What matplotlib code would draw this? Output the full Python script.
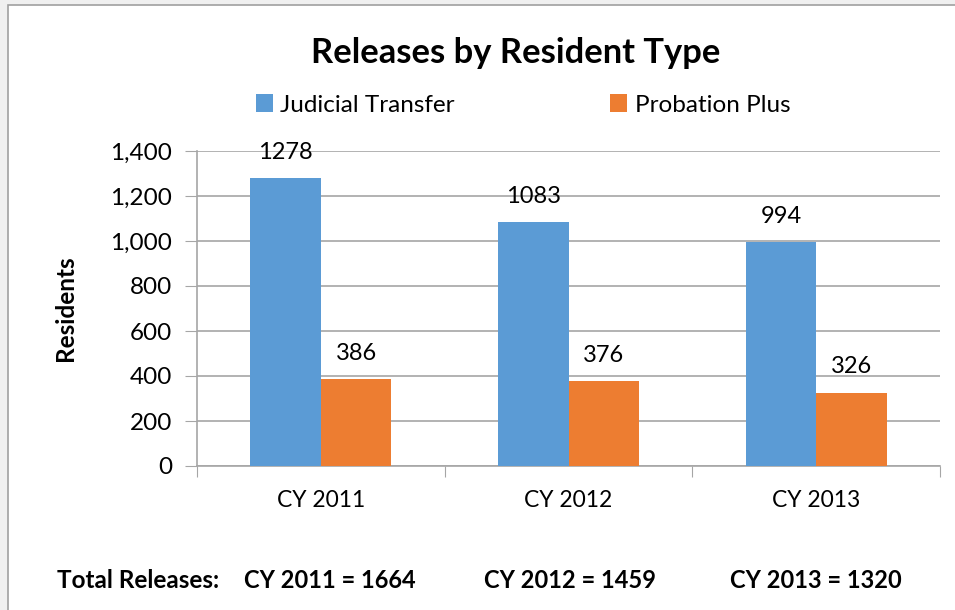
import matplotlib.pyplot as plt
import numpy as np
from matplotlib.patches import Rectangle

categories = ["CY 2011", "CY 2012", "CY 2013"]
judicial = [1278, 1083, 994]
probation = [386, 376, 326]
totals = [1664, 1459, 1320]
series_names = ["Judicial Transfer", "Probation Plus"]
yticks = [0, 200, 400, 600, 800, 1000, 1200, 1400]

plt.rcParams['font.family'] = ['Lato', 'DejaVu Sans']

blue = '#5b9bd5'
orange = '#ed7d31'
grid = '#a6a6a6'

fig = plt.figure(figsize=(9.55, 6.10), dpi=100)
fig.patch.set_facecolor('#f0f0f0')
# white chart area with gray border
fig.patches.append(Rectangle((8/955, -0.1), 1.2, (605+61)/610, transform=fig.transFigure,
                             facecolor='white', edgecolor='#a0a0a0', lw=1.2, zorder=-10))

ax = fig.add_axes([197/955, 144/610, 743/955, 315/610])
ax.set_facecolor('white')
x = np.arange(len(categories))
w = 0.285
b1 = ax.bar(x - w/2, judicial, w, color=blue, zorder=3)
b2 = ax.bar(x + w/2, probation, w, color=orange, zorder=3)

for bars, vals in ((b1, judicial), (b2, probation)):
    for b, v in zip(bars, vals):
        ax.annotate(str(v), (b.get_x() + b.get_width()/2, v), xytext=(0, 11),
                    textcoords='offset points', ha='center', va='bottom', fontsize=17)

ax.set_xlim(-0.5, 2.5)
ax.set_ylim(0, 1400)
ax.set_yticks(yticks)
ax.set_yticklabels([f"{t:,}" for t in yticks], fontsize=17.5)
ax.yaxis.grid(True, color=grid, lw=1.2, zorder=0)
ax.tick_params(axis='y', length=9, color=grid, pad=9)

ax.set_xticks([-0.5, 0.5, 1.5, 2.5])
ax.set_xticklabels([])
ax.tick_params(axis='x', length=8, color=grid)
for xi, c in zip(x, categories):
    ax.text(xi, -0.11, c, transform=ax.get_xaxis_transform(), ha='center', va='center', fontsize=16.5)

for s in ['top', 'right']:
    ax.spines[s].set_visible(False)
ax.spines['left'].set_color(grid)
ax.spines['bottom'].set_color(grid)
ax.spines['left'].set_linewidth(1.2)
ax.spines['bottom'].set_linewidth(1.2)

ax.set_ylabel("Residents", fontsize=17.5, fontweight='bold', labelpad=24)

fig.text(516/955, 1 - 53/610, "Releases by Resident Type", ha='center', va='center',
         fontsize=24.8, fontweight='bold')

# legend
leg = ax.legend([b1, b2], series_names, loc='center', bbox_to_anchor=(523/955, 1 - 105/610),
                bbox_transform=fig.transFigure, ncol=2, frameon=False, fontsize=17.5,
                handlelength=0.7, handleheight=0.7, handletextpad=0.3, columnspacing=6.4)

fig.text(57/955, 1 - 580/610, "Total Releases:", ha='left', va='center', fontsize=17.5, fontweight='bold')
for xc, c, t in zip([330, 570, 816], categories, totals):
    fig.text(xc/955, 1 - 580/610, f"{c} = {t}", ha='center', va='center', fontsize=17, fontweight='bold')

fig.savefig("out.png", dpi=100, facecolor=fig.get_facecolor())
